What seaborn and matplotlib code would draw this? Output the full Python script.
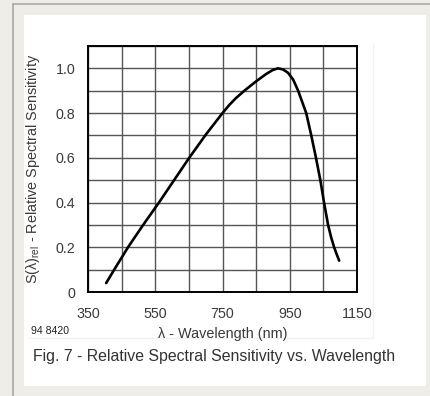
import numpy as np
import pandas as pd
import matplotlib
matplotlib.use("Agg")
import matplotlib.pyplot as plt
import seaborn as sns
from matplotlib.patches import Rectangle
from matplotlib.lines import Line2D

# Curve
wavelength = [404, 428, 469, 514, 561, 606, 651, 701, 750, 770, 790, 815, 850,
              880, 900, 915, 930, 945, 960, 975, 999, 1014, 1028, 1041,
              1052, 1064, 1073, 1082, 1090, 1097]
sensitivity = [0.04, 0.10, 0.20, 0.30, 0.40, 0.50, 0.60, 0.705, 0.80, 0.836,
               0.867, 0.90, 0.942, 0.975, 0.993, 1.0, 0.995, 0.98, 0.95, 0.90,
               0.80, 0.70, 0.60, 0.50, 0.40, 0.30, 0.245, 0.20, 0.167, 0.14]

x_major = [350, 550, 750, 950, 1150]
x_minor = list(range(350, 1151, 100))
y_major = [0, 0.2, 0.4, 0.6, 0.8, 1.0]
y_labels = ["0", "0.2", "0.4", "0.6", "0.8", "1.0"]
y_minor = [i / 10 for i in range(12)]

df = pd.DataFrame({"wl": wavelength, "s": sensitivity})

sns.set_style("white")
plt.rcParams["font.family"] = ["Liberation Sans", "DejaVu Sans"]
plt.rcParams["mathtext.fontset"] = "custom"
plt.rcParams["mathtext.rm"] = "Liberation Sans"

fig = plt.figure(figsize=(4.3, 3.96), dpi=100)
fig.patch.set_facecolor("#eeede7")

W, H = 430, 396
# white panel and the frame lines of the page
fig.patches.append(Rectangle((24 / W, 1 - 386 / H), 402 / W, 371 / H,
                             transform=fig.transFigure, facecolor="white",
                             edgecolor="none", zorder=-5))
fig.lines.append(Line2D([13 / W, 1], [1 - 4 / H, 1 - 4 / H], transform=fig.transFigure,
                        color="#a9a9a9", lw=1.2, zorder=-4))
fig.lines.append(Line2D([13 / W, 13 / W], [0, 1 - 4 / H], transform=fig.transFigure,
                        color="#a9a9a9", lw=1.2, zorder=-4))
# faint edge of the pasted chart image
fig.lines.append(Line2D([28 / W, 373 / W, 373 / W], [1 - 338 / H, 1 - 338 / H, 1 - 44 / H],
                        transform=fig.transFigure, color="#f2f2f2", lw=1.0, zorder=-4))

ax = fig.add_axes([88 / W, 1 - 292 / H, 269 / W, 246 / H])
ax.set_zorder(2)
ax.set_facecolor("white")

sns.lineplot(data=df, x="wl", y="s", ax=ax, color="black", linewidth=1.9,
             sort=False, zorder=3)

ax.set_xlim(350, 1150)
ax.set_ylim(0, 1.1)
ax.set_xticks(x_major)
ax.set_xticks(x_minor, minor=True)
ax.set_yticks(y_major)
ax.set_yticklabels(y_labels)
ax.set_yticks(y_minor, minor=True)
ax.grid(True, which="both", color="#555555", linewidth=1.0)
ax.tick_params(which="both", length=0, labelsize=10.3, labelcolor="#3a3a3a")
ax.tick_params(axis="x", pad=11)
ax.tick_params(axis="y", pad=9)
for sp in ax.spines.values():
    sp.set_color("black")
    sp.set_linewidth(1.4)
    sp.set_visible(True)

ax.set_xlabel("λ - Wavelength (nm)", fontsize=10.4, color="#3a3a3a", labelpad=4)
ax.set_ylabel("S(λ)$_{\\mathregular{rel}}$ - Relative Spectral Sensitivity",
              fontsize=10.4, color="#3a3a3a", labelpad=10)

fig.text(31 / W, 1 - 331 / H, "94 8420", fontsize=7.6, color="#222222",
         va="center", ha="left")
fig.text(33 / W, 1 - 357 / H, "Fig. 7 - Relative Spectral Sensitivity vs. Wavelength",
         fontsize=11.4, color="#333333", va="center", ha="left")

fig.savefig("out.png", dpi=100, facecolor=fig.get_facecolor())
